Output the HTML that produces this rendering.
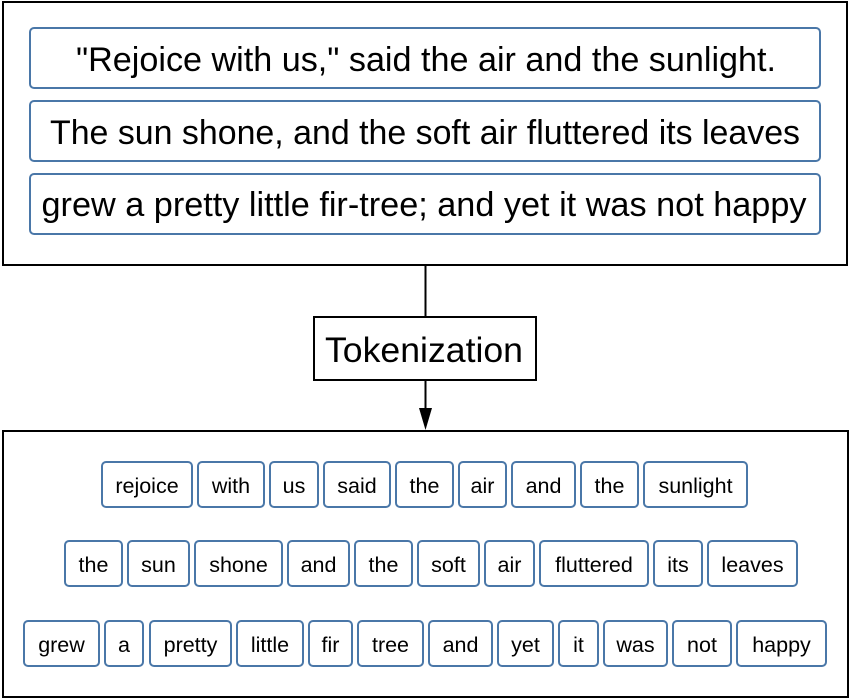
<!DOCTYPE html>
<html><head><meta charset="utf-8"><style>
html,body{margin:0;padding:0;background:#fff;}
svg{display:block;font-family:"Liberation Sans",Arial,sans-serif;}
</style></head><body>
<svg width="850" height="699" viewBox="0 0 850 699" xmlns="http://www.w3.org/2000/svg">
<rect x="3" y="2" width="844" height="263" fill="#fff" stroke="#000" stroke-width="2"/>
<g fill="#fff" stroke="#4a77a8" stroke-width="2">
<rect x="30" y="28" width="790" height="60" rx="4"/>
<rect x="30" y="101" width="790" height="60" rx="4"/>
<rect x="30" y="174" width="790" height="60" rx="4"/>
</g>
<g font-size="34" fill="#000" text-anchor="middle">
<text x="426" y="71" textLength="700" lengthAdjust="spacingAndGlyphs">"Rejoice with us," said the air and the sunlight.</text>
<text x="425" y="144" textLength="750" lengthAdjust="spacingAndGlyphs">The sun shone, and the soft air fluttered its leaves</text>
<text x="424" y="216" textLength="765" lengthAdjust="spacingAndGlyphs">grew a pretty little fir-tree; and yet it was not happy</text>
</g>
<line x1="425.5" y1="265" x2="425.5" y2="317" stroke="#000" stroke-width="2"/>
<rect x="314" y="317" width="222" height="63" fill="#fff" stroke="#000" stroke-width="2"/>
<text x="424" y="362" font-size="35" text-anchor="middle" textLength="198" lengthAdjust="spacingAndGlyphs">Tokenization</text>
<line x1="425.5" y1="380" x2="425.5" y2="410" stroke="#000" stroke-width="2"/>
<polygon points="419,408 432,408 425.5,430" fill="#000"/>
<rect x="3" y="431" width="845" height="266" fill="#fff" stroke="#000" stroke-width="2"/>
<g font-size="21.5" text-anchor="middle">
<g fill="#fff" stroke="#4a77a8" stroke-width="2">
<rect x="102" y="462" width="90" height="45" rx="4"/><rect x="198" y="462" width="66" height="45" rx="4"/><rect x="270" y="462" width="48" height="45" rx="4"/><rect x="324" y="462" width="66" height="45" rx="4"/><rect x="396" y="462" width="57" height="45" rx="4"/><rect x="459" y="462" width="47" height="45" rx="4"/><rect x="512" y="462" width="63" height="45" rx="4"/><rect x="581" y="462" width="57" height="45" rx="4"/><rect x="644" y="462" width="103" height="45" rx="4"/>
<rect x="65" y="541" width="57" height="45" rx="4"/><rect x="128" y="541" width="61" height="45" rx="4"/><rect x="195" y="541" width="87" height="45" rx="4"/><rect x="288" y="541" width="61" height="45" rx="4"/><rect x="355" y="541" width="57" height="45" rx="4"/><rect x="418" y="541" width="61" height="45" rx="4"/><rect x="485" y="541" width="49" height="45" rx="4"/><rect x="540" y="541" width="108" height="45" rx="4"/><rect x="654" y="541" width="48" height="45" rx="4"/><rect x="708" y="541" width="89" height="45" rx="4"/>
<rect x="24" y="621" width="75" height="45" rx="4"/><rect x="105" y="621" width="38" height="45" rx="4"/><rect x="150" y="621" width="81" height="45" rx="4"/><rect x="237" y="621" width="66" height="45" rx="4"/><rect x="309" y="621" width="43" height="45" rx="4"/><rect x="358" y="621" width="65" height="45" rx="4"/><rect x="429" y="621" width="63" height="45" rx="4"/><rect x="498" y="621" width="55" height="45" rx="4"/><rect x="559" y="621" width="39" height="45" rx="4"/><rect x="604" y="621" width="63" height="45" rx="4"/><rect x="673" y="621" width="58" height="45" rx="4"/><rect x="737" y="621" width="89" height="45" rx="4"/>
</g>
<g fill="#000">
<text x="147" y="493">rejoice</text><text x="231" y="493">with</text><text x="294" y="493">us</text><text x="357" y="493">said</text><text x="424.5" y="493">the</text><text x="482.5" y="493">air</text><text x="543.5" y="493">and</text><text x="609.5" y="493">the</text><text x="695.5" y="493">sunlight</text>
<text x="93.5" y="572">the</text><text x="158.5" y="572">sun</text><text x="238.5" y="572">shone</text><text x="318.5" y="572">and</text><text x="383.5" y="572">the</text><text x="448.5" y="572">soft</text><text x="509.5" y="572">air</text><text x="594" y="572">fluttered</text><text x="678" y="572">its</text><text x="752.5" y="572">leaves</text>
<text x="61.5" y="652">grew</text><text x="124" y="652">a</text><text x="190.5" y="652">pretty</text><text x="270" y="652">little</text><text x="330.5" y="652">fir</text><text x="390.5" y="652">tree</text><text x="460.5" y="652">and</text><text x="525.5" y="652">yet</text><text x="578.5" y="652">it</text><text x="635.5" y="652">was</text><text x="702" y="652">not</text><text x="781.5" y="652">happy</text>
</g>
</g>
</svg>
</body></html>
